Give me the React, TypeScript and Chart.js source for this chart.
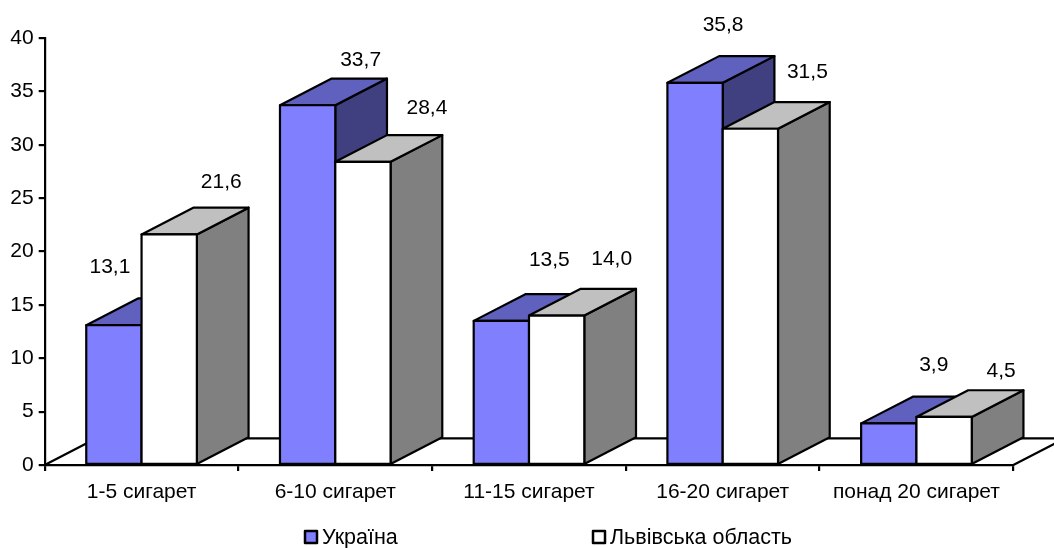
import React, { useEffect, useRef } from "react";
import { Chart, registerables } from "chart.js";

Chart.register(...registerables);

const categories = ["1-5 сигарет", "6-10 сигарет", "11-15 сигарет", "16-20 сигарет", "понад 20 сигарет"];
const ukraine = [13.1, 33.7, 13.5, 35.8, 3.9];
const lviv = [21.6, 28.4, 14.0, 31.5, 4.5];
const seriesNames = ["Україна", "Львівська область"];

const FONT = '"Liberation Sans", Arial, sans-serif';
const FS = 21;
const FS_CAT = 21;
const FS_LEG = 21.5;
const DX = 51.7;
const DY = 26.7;
const LW = 2.2;
const faces = [
  { front: "#8080FF", top: "#6060BF", side: "#404080" },
  { front: "#FFFFFF", top: "#C0C0C0", side: "#808080" },
];
// hand-placed label offsets from the centre of each bar's top edge, as in the original
const labelOffsets = [
  [[-4, -58], [53, -45], [48, -61], [28, -58], [45, -58]],
  [[52, -52], [64, -54], [55, -56], [57, -57], [57, -46]],
];
const legendX = [305, 593];
const LEGEND_Y = 538;

function poly(ctx: CanvasRenderingContext2D, pts: number[][], fill: string | null) {
  ctx.beginPath();
  pts.forEach((p, i) => (i ? ctx.lineTo(p[0], p[1]) : ctx.moveTo(p[0], p[1])));
  if (fill) {
    ctx.closePath();
    ctx.fillStyle = fill;
    ctx.fill();
  }
  ctx.stroke();
}

const bars3d = {
  id: "bars3d",
  beforeDatasetsDraw(chart: any) {
    const { ctx, chartArea: a } = chart;
    ctx.save();
    ctx.strokeStyle = "#000";
    ctx.lineWidth = LW;
    ctx.lineJoin = "round";
    // floor
    poly(ctx, [[a.left, a.bottom], [a.left + DX, a.bottom - DY], [a.right + DX, a.bottom - DY]], null);
    poly(ctx, [[a.right, a.bottom], [a.right + DX, a.bottom - DY]], null);
    ctx.restore();
  },
  afterDatasetsDraw(chart: any) {
    const { ctx } = chart;
    ctx.save();
    ctx.strokeStyle = "#000";
    ctx.lineWidth = LW;
    ctx.lineJoin = "round";
    categories.forEach((_, i) => {
      [0, 1].forEach((d) => {
        const el = chart.getDatasetMeta(d).data[i];
        const w = el.width;
        const l = el.x - w / 2;
        const r = el.x + w / 2;
        const t = el.y;
        const b = el.base;
        const f = faces[d];
        poly(ctx, [[r, b], [r + DX, b - DY], [r + DX, t - DY], [r, t]], f.side);
        poly(ctx, [[l, t], [l + DX, t - DY], [r + DX, t - DY], [r, t]], f.top);
        poly(ctx, [[l, b], [l, t], [r, t], [r, b]], f.front);
      });
    });
    // value labels
    ctx.fillStyle = "#000";
    ctx.font = `${FS}px ${FONT}`;
    ctx.textAlign = "center";
    ctx.textBaseline = "middle";
    [ukraine, lviv].forEach((vals, d) => {
      vals.forEach((v, i) => {
        const el = chart.getDatasetMeta(d).data[i];
        const o = labelOffsets[d][i];
        ctx.fillText(v.toFixed(1).replace(".", ","), el.x + o[0], el.y + o[1]);
      });
    });
    // legend
    ctx.textAlign = "left";
    ctx.font = `${FS_LEG}px ${FONT}`;
    seriesNames.forEach((name, d) => {
      const x = legendX[d];
      ctx.lineWidth = 2.5;
      ctx.fillStyle = faces[d].front;
      ctx.fillRect(x, LEGEND_Y - 7, 12, 12);
      ctx.strokeRect(x, LEGEND_Y - 7, 12, 12);
      ctx.fillStyle = "#000";
      ctx.fillText(name, x + 17, LEGEND_Y);
    });
    ctx.restore();
  },
};

export default function App() {
  const ref = useRef<HTMLCanvasElement>(null);
  useEffect(() => {
    const chart = new Chart(ref.current!, {
      type: "bar",
      data: {
        labels: categories,
        datasets: [
          { label: seriesNames[0], data: ukraine, backgroundColor: faces[0].front, borderColor: "#000" },
          { label: seriesNames[1], data: lviv, backgroundColor: faces[1].front, borderColor: "#000" },
        ],
      },
      plugins: [bars3d],
      options: {
        animation: false,
        responsive: false,
        devicePixelRatio: 1,
        layout: { padding: { top: 38, right: 40.7, left: 0, bottom: 0 } },
        datasets: { bar: { categoryPercentage: 110.6 / 193.7, barPercentage: 1 } },
        plugins: { legend: { display: false }, tooltip: { enabled: false } },
        scales: {
          x: {
            afterFit: (s: any) => { s.height = 83; },
            border: { color: "#000", width: LW },
            grid: { drawOnChartArea: false, color: "#000", lineWidth: LW, tickLength: 6 },
            ticks: { color: "#000", font: { family: FONT, size: FS_CAT }, maxRotation: 0, autoSkip: false, padding: 9 },
          },
          y: {
            min: 0,
            max: 40,
            afterFit: (s: any) => { s.width = 44.7; },
            border: { color: "#000", width: LW },
            grid: { drawOnChartArea: false, color: "#000", lineWidth: LW, tickLength: 6 },
            ticks: { color: "#000", font: { family: FONT, size: FS }, stepSize: 5, padding: 5 },
          },
        },
      },
    } as any);
    return () => chart.destroy();
  }, []);
  return (
    <div style={{ position: "fixed", left: 0, top: 0, width: 1054, height: 548, background: "#fff" }}>
      <canvas ref={ref} width={1054} height={548} style={{ display: "block" }} />
    </div>
  );
}
